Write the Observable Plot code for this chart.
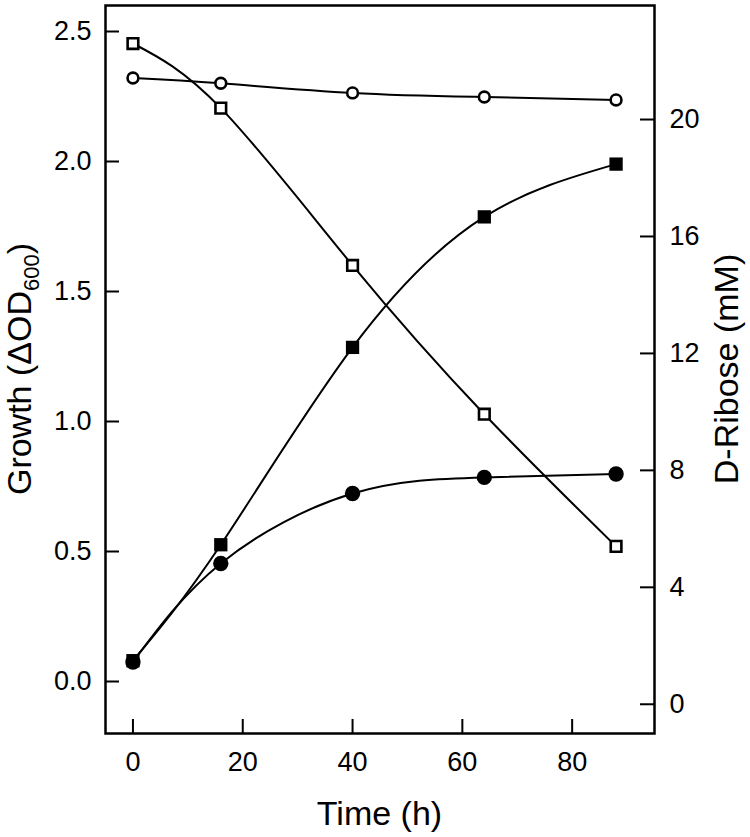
<!DOCTYPE html>
<html><head><meta charset="utf-8">
<script src="https://cdn.jsdelivr.net/npm/d3@7"></script>
<script src="https://cdn.jsdelivr.net/npm/@observablehq/plot@0.6"></script>
<style>body{margin:0;background:#fff} svg{display:block}</style>
</head><body><div id="chart"></div>
<script>
// Data
const timeH = [0, 16, 40, 64, 88];
const growthFilledSquares = [0.08, 0.526, 1.285, 1.787, 1.99];     // left axis, ΔOD600
const growthFilledCircles = [0.075, 0.454, 0.723, 0.785, 0.798];   // left axis, ΔOD600
const riboseOpenSquares = [22.6, 20.39, 15.01, 9.92, 5.40];         // right axis, mM
const riboseOpenCircles = [21.42, 21.24, 20.91, 20.77, 20.67];      // right axis, mM
const xTicks = [0, 20, 40, 60, 80];
const leftTicks = [0, 0.5, 1.0, 1.5, 2.0, 2.5];
const rightTicks = [0, 4, 8, 12, 16, 20];
const leftDomain = [-0.2, 2.6];
const rightDomain = [-1, 23.9];
const xDomain = [-5, 95];

const toLeft = r => leftDomain[0] + (r - rightDomain[0]) * (leftDomain[1] - leftDomain[0]) / (rightDomain[1] - rightDomain[0]);
const toRight = l => rightDomain[0] + (l - leftDomain[0]) * (rightDomain[1] - rightDomain[0]) / (leftDomain[1] - leftDomain[0]);

const mk = (name, vals, conv) => timeH.map((t, i) => ({series: name, t, y: conv(vals[i])}));
const fs = mk("fs", growthFilledSquares, v => v);
const fc = mk("fc", growthFilledCircles, v => v);
const os = mk("os", riboseOpenSquares, toLeft);
const oc = mk("oc", riboseOpenCircles, toLeft);
const all = [...fs, ...fc, ...os, ...oc];

const W = 750, H = 837;
const mL = 105, mR = 96, mT = 5, mB = 104;
const frameW = W - mL - mR, frameH = H - mT - mB;
const TICK = 14;
const FONT = "Liberation Sans, Arial, Helvetica, sans-serif";

const chart = Plot.plot({
  width: W, height: H,
  marginLeft: mL, marginRight: mR, marginTop: mT, marginBottom: mB,
  style: {fontFamily: FONT, background: "white", color: "black"},
  x: {domain: xDomain, label: null},
  y: {domain: leftDomain, label: null},
  marks: [
    // inward ticks
    Plot.tickX(xTicks, {x: d => d, insetTop: frameH - TICK, stroke: "black", strokeWidth: 2}),
    Plot.tickY(leftTicks, {y: d => d, insetRight: frameW - TICK, stroke: "black", strokeWidth: 2}),
    Plot.tickY(rightTicks.map(toLeft), {y: d => d, insetLeft: frameW - TICK, stroke: "black", strokeWidth: 2}),
    // tick labels
    Plot.axisX(xTicks, {tickSize: 0, tickPadding: 18, fontSize: 27, label: null}),
    Plot.axisY(leftTicks, {anchor: "left", tickSize: 0, tickPadding: 14, fontSize: 27, tickFormat: d3.format(".1f"), label: null}),
    Plot.axisY(rightTicks.map(toLeft), {anchor: "right", tickSize: 0, tickPadding: 15, fontSize: 27, tickFormat: v => String(Math.round(toRight(v))), label: null}),
    // curves and symbols
    Plot.line(all, {x: "t", y: "y", z: "series", curve: "natural", stroke: "black", strokeWidth: 2}),
    Plot.dot(fs, {x: "t", y: "y", symbol: "square", r: 7.5, fill: "black", stroke: "none"}),
    Plot.dot(fc, {x: "t", y: "y", symbol: "circle", r: 7.7, fill: "black", stroke: "none"}),
    Plot.dot(os, {x: "t", y: "y", symbol: "square", r: 6, fill: "white", stroke: "black", strokeWidth: 2.6}),
    Plot.dot(oc, {x: "t", y: "y", symbol: "circle", r: 5.4, fill: "white", stroke: "black", strokeWidth: 2.6}),
    Plot.frame({stroke: "black", strokeWidth: 2.5})
  ]
});

document.getElementById("chart").appendChild(chart);

// Axis titles (with subscript)
const svg = d3.select(chart);
const cx = (mL + (W - mR)) / 2;
const cy = (mT + (H - mB)) / 2;
svg.append("text")
  .attr("x", cx).attr("y", 825)
  .attr("text-anchor", "middle")
  .attr("font-family", FONT).attr("font-size", 34).attr("fill", "black")
  .text("Time (h)");

const lt = svg.append("text")
  .attr("transform", `translate(31,${cy}) rotate(-90)`)
  .attr("text-anchor", "middle")
  .attr("font-family", FONT).attr("font-size", 34).attr("fill", "black");
lt.append("tspan").text("Growth (ΔOD");
lt.append("tspan").attr("font-size", 22).attr("dy", 8).text("600");
lt.append("tspan").attr("dy", -8).text(")");

svg.append("text")
  .attr("transform", `translate(738,${cy}) rotate(-90)`)
  .attr("text-anchor", "middle")
  .attr("font-family", FONT).attr("font-size", 34).attr("fill", "black")
  .text("D-Ribose (mM)");
</script>
</body></html>
